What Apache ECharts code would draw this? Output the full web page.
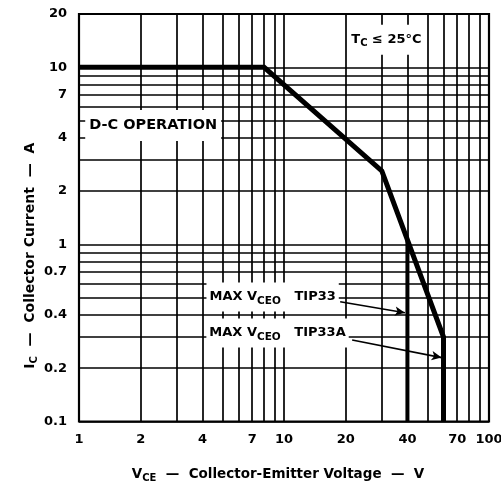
<!DOCTYPE html>
<html><head><meta charset="utf-8">
<script src="https://cdn.jsdelivr.net/npm/echarts@6/dist/echarts.min.js"></script>
<style>html,body{margin:0;padding:0;background:#fff}#c{width:501px;height:494px}</style>
</head><body><div id="c"></div>
<script>
// ---- data ----
const xTickLabels = [1, 2, 4, 7, 10, 20, 40, 70, 100];
const yTickLabels = [0.1, 0.2, 0.4, 0.7, 1, 2, 4, 7, 10, 20];
const xGridValues = [1, 2, 3, 4, 5, 6, 7, 8, 9, 10, 20, 30, 40, 50, 60, 70, 80, 90, 100];
const yGridValues = [0.1, 0.2, 0.3, 0.4, 0.5, 0.6, 0.7, 0.8, 0.9, 1, 2, 3, 4, 5, 6, 7, 8, 9, 10, 20];
const dcOperation = [[1, 10], [8, 10], [30, 2.6], [60, 0.3], [60, 0.1]];
const tip33Limit = [[40, 1.06], [40, 0.1]];

// ---- annotation placement (data coordinates) ----
const notes = {
  tc: [31.6, 14.3],
  dc: [2.3, 4.7],
  tip33: [8.8, 0.505],
  tip33a: [9.3, 0.316]
};
const arrows = [
  [[18.8, 0.474], [38.9, 0.411]],
  [[21.5, 0.2885], [58.7, 0.2295]]
];

const FONT = 'DejaVu Sans';
const sub = { fontFamily: FONT, fontWeight: 'bold', fontSize: 10, padding: [8, 0, 0, 0], color: '#000' };

const chart = echarts.init(document.getElementById('c'), null, { renderer: 'canvas' });
chart.setOption({
  animation: false,
  backgroundColor: '#fff',
  grid: { left: 79, right: 12, top: 14, bottom: 72.5, outerBoundsMode: 'none', containLabel: false,
    show: true, borderColor: '#000', borderWidth: 2.2, backgroundColor: 'transparent' },
  xAxis: {
    type: 'log', min: 1, max: 100, logBase: 10,
    axisLine: { show: false }, axisTick: { show: false }, splitLine: { show: false },
    axisLabel: { customValues: xTickLabels, margin: 12, color: '#000', fontFamily: FONT, fontWeight: 'bold', fontSize: 13,
      formatter: v => String(v) },
    name: 'V{s|CE}  —  Collector-Emitter Voltage  —  V', nameLocation: 'middle', nameGap: 44, nameMoveOverlap: false,
    nameTextStyle: { color: '#000', fontFamily: FONT, fontWeight: 'bold', fontSize: 13.5, rich: { s: sub }, padding: [0, 12, 0, 0] }
  },
  yAxis: {
    type: 'log', min: 0.1, max: 20, logBase: 10,
    axisLine: { show: false }, axisTick: { show: false }, splitLine: { show: false },
    axisLabel: { customValues: yTickLabels, margin: 12, color: '#000', fontFamily: FONT, fontWeight: 'bold', fontSize: 13,
      formatter: v => String(v) },
    name: 'I{s|C}  —  Collector Current  —  A', nameLocation: 'middle', nameGap: 40, nameMoveOverlap: false,
    nameTextStyle: { color: '#000', fontFamily: FONT, fontWeight: 'bold', fontSize: 14, rich: { s: sub }, padding: [0, 76, 0, 0] }
  },
  series: [
    {
      type: 'line', data: [], silent: true, z: 1,
      markLine: {
        silent: true, symbol: ['none', 'none'], label: { show: false },
        lineStyle: { color: '#000', width: 1.7, type: 'solid' },
        data: xGridValues.map(v => ({ xAxis: v })).concat(yGridValues.map(v => ({ yAxis: v })))
      }
    },
    {
      type: 'line', data: [], silent: true, z: 3,
      markPoint: {
        silent: true, symbol: 'rect', symbolSize: 1, itemStyle: { color: 'rgba(0,0,0,0)' },
        label: { show: true, position: 'inside', color: '#000', fontFamily: FONT, fontWeight: 'bold', backgroundColor: '#fff' },
        data: [
          { coord: notes.tc, label: { formatter: 'T{s|C} ≤ 25°C', fontSize: 13, padding: [6, 4, 6, 4], rich: { s: { ...sub, fontSize: 10 } } } },
          { coord: notes.dc, label: { formatter: 'D-C OPERATION', fontSize: 14.5, padding: [8, 4, 8, 4] } },
          { coord: notes.tip33, label: { formatter: 'MAX V{s|CEO}   TIP33', fontSize: 13, padding: [5, 3, 5, 3], rich: { s: { ...sub, fontSize: 10.5 } } } },
          { coord: notes.tip33a, label: { formatter: 'MAX V{s|CEO}   TIP33A', fontSize: 13, padding: [5, 3, 5, 3], rich: { s: { ...sub, fontSize: 10.5 } } } }
        ]
      },
      markLine: {
        silent: true, symbol: ['none', 'arrow'], symbolSize: [7, 10], label: { show: false },
        lineStyle: { color: '#000', width: 1.6, type: 'solid' },
        data: arrows.map(a => [{ coord: a[0] }, { coord: a[1] }])
      }
    },
    {
      type: 'line', data: tip33Limit, showSymbol: false, silent: true, z: 4,
      lineStyle: { color: '#000', width: 4 }
    },
    {
      type: 'line', data: dcOperation, showSymbol: false, silent: true, z: 5,
      lineStyle: { color: '#000', width: 5, join: 'miter' }
    }
  ]
});
</script>
</body></html>
